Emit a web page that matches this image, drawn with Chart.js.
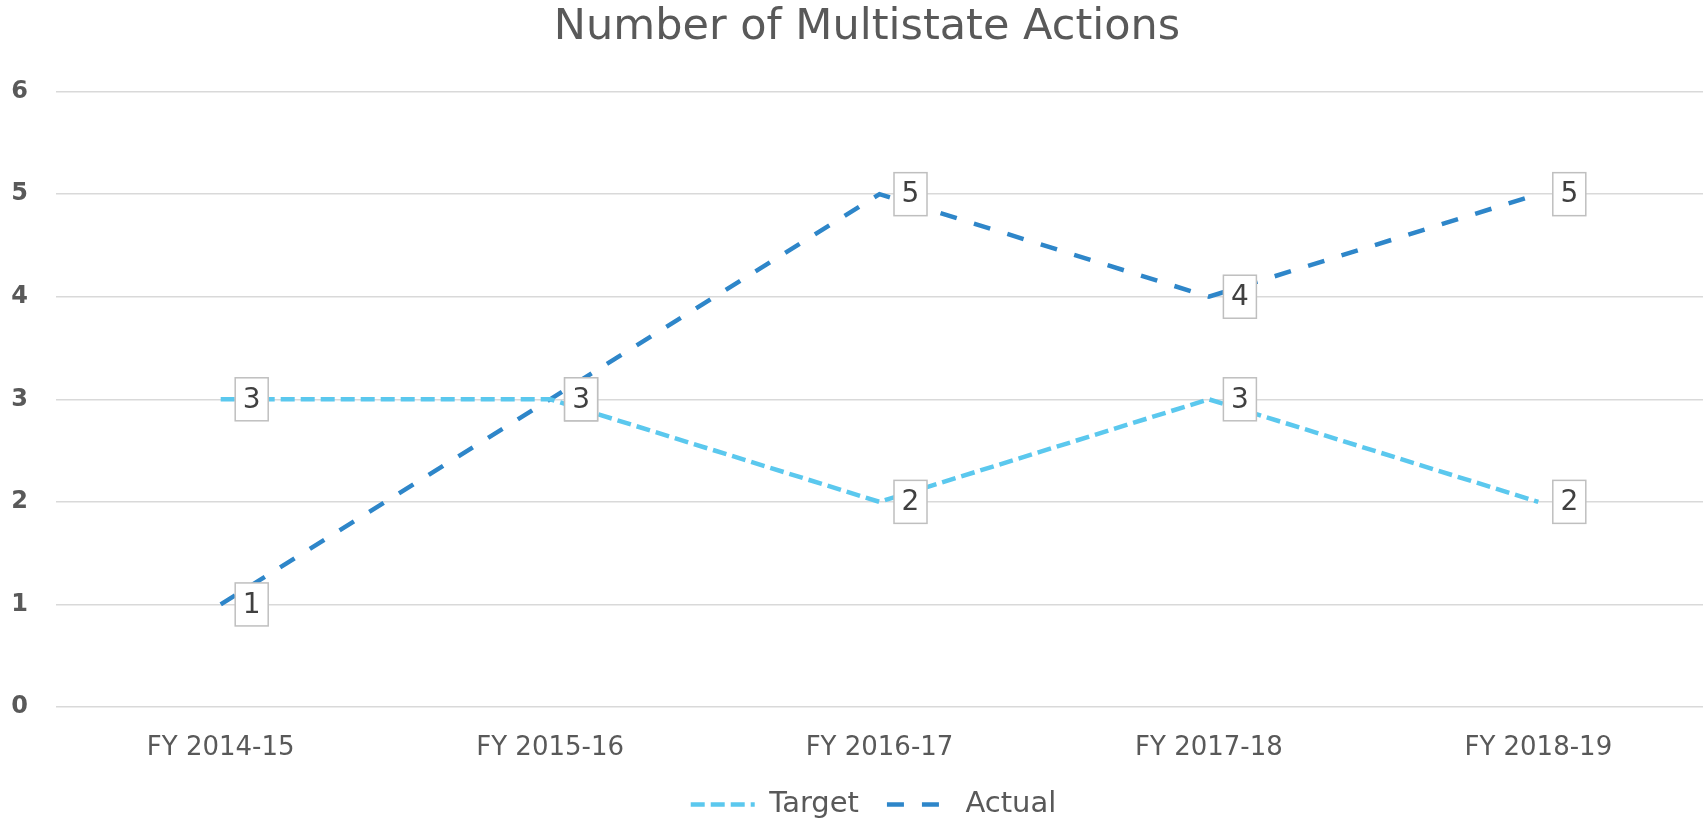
<!DOCTYPE html>
<html>
<head>
<meta charset="utf-8">
<script src="https://cdn.jsdelivr.net/npm/chart.js@4.4.1/dist/chart.umd.min.js"></script>
<style>
  html, body { margin: 0; padding: 0; background: #ffffff; }
  #wrap { width: 1703px; height: 820px; }
</style>
</head>
<body>
<div id="wrap"><canvas id="chart" width="1703" height="820"></canvas></div>
<script>
// datos del grafico
const categories = ['FY 2014-15', 'FY 2015-16', 'FY 2016-17', 'FY 2017-18', 'FY 2018-19'];
const targetValues = [3, 3, 2, 3, 2];
const actualValues = [1, 3, 5, 4, 5];
const yTicks = [0, 1, 2, 3, 4, 5, 6];

const FONT = "'DejaVu Sans', sans-serif";
const GRAY = '#595959';

// etiquetas en caja blanca a la derecha de cada punto
const boxLabels = {
    id: 'boxLabels',
    afterDatasetsDraw(chart) {
        const ctx = chart.ctx;
        ctx.save();
        ctx.font = '28px ' + FONT;
        ctx.textAlign = 'center';
        ctx.textBaseline = 'middle';
        chart.data.datasets.forEach((ds, i) => {
            const meta = chart.getDatasetMeta(i);
            meta.data.forEach((pt, j) => {
                const cx = pt.x + 31;
                const cy = pt.y;
                const w = 33, h = 43;
                ctx.fillStyle = '#ffffff';
                ctx.fillRect(cx - w / 2, cy - h / 2, w, h);
                ctx.strokeStyle = '#bfbfbf';
                ctx.lineWidth = 1.5;
                ctx.strokeRect(cx - w / 2, cy - h / 2, w, h);
                ctx.fillStyle = '#404040';
                ctx.fillText(String(ds.data[j]), cx, cy + 1);
            });
        });
        ctx.restore();
    }
};

// en el original el titulo y la leyenda estan corridos a la derecha
const shiftBlocks = {
    id: 'shiftBlocks',
    afterLayout(chart) {
        if (chart.titleBlock) chart.titleBlock.left += 31;
        if (chart.legend) chart.legend.left += 44;
    }
};

new Chart(document.getElementById('chart'), {
    type: 'line',
    data: {
        labels: categories,
        datasets: [
            {
                label: 'Target',
                data: targetValues,
                borderColor: '#5BC8EE',
                backgroundColor: '#5BC8EE',
                borderWidth: 4.5,
                borderDash: [14, 6],
                pointRadius: 0,
                tension: 0
            },
            {
                label: 'Actual',
                data: actualValues,
                borderColor: '#2E86C9',
                backgroundColor: '#2E86C9',
                borderWidth: 4.5,
                borderDash: [17, 18],
                pointRadius: 0,
                tension: 0
            }
        ]
    },
    options: {
        responsive: false,
        animation: false,
        layout: { padding: { left: 0, right: 0, top: 0, bottom: -9 } },
        plugins: {
            title: {
                display: true,
                text: 'Number of Multistate Actions',
                color: GRAY,
                font: { family: FONT, size: 43, weight: 'normal' },
                padding: { top: 2, bottom: 38 }
            },
            legend: {
                position: 'bottom',
                labels: {
                    color: GRAY,
                    font: { family: FONT, size: 29 },
                    usePointStyle: true,
                    pointStyle: 'line',
                    pointStyleWidth: 64,
                    boxWidth: 64,
                    boxHeight: 4,
                    padding: 28,
                    generateLabels(chart) {
                        // el estilo por defecto no trae el punteado de la linea
                        const items = Chart.defaults.plugins.legend.labels.generateLabels(chart);
                        items.forEach(it => {
                            it.lineDash = chart.data.datasets[it.datasetIndex].borderDash;
                        });
                        return items;
                    }
                }
            },
            tooltip: { enabled: false }
        },
        scales: {
            x: {
                offset: true,
                grid: { display: false, drawTicks: false },
                border: { display: false },
                ticks: {
                    color: GRAY,
                    font: { family: FONT, size: 26 },
                    padding: 26,
                    maxRotation: 0
                },
                afterFit(scale) { scale.height = 55; }
            },
            y: {
                min: 0,
                max: 6,
                afterBuildTicks(scale) { scale.ticks = yTicks.map(v => ({ value: v })); },
                grid: { color: '#d9d9d9', lineWidth: 1.5, drawTicks: false },
                border: { display: false },
                ticks: {
                    color: GRAY,
                    font: { family: FONT, size: 24, weight: 'bold' },
                    padding: 28
                },
                afterFit(scale) { scale.width = 56; }
            }
        }
    },
    plugins: [boxLabels, shiftBlocks]
});
</script>
</body>
</html>
